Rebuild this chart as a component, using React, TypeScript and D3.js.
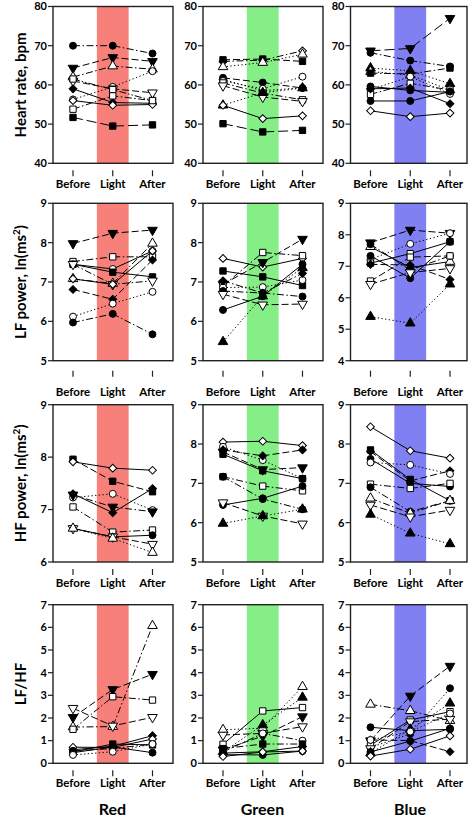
import React from 'react';
import * as d3 from 'd3';

// [marker, line style, Before, Light, After]
type Series = [string, string, number, number, number];

const conditions = ['Before', 'Light', 'After'];
const lightNames = ['Red', 'Green', 'Blue'];
const bandColors = ['#F7807A', '#86EE86', '#8080F2'];
const rowTitles = ['Heart rate, bpm', 'LF power, ln(ms', 'HF power, ln(ms', 'LF/HF'];
const rowTitleSup = [false, true, true, false];

const hrDomains = [[40, 80], [40, 80], [40, 80]];
const lfDomains = [[5, 9], [5, 9], [4, 9]];
const hfDomains = [[6, 9], [5, 9], [5, 9]];
const ratioDomains = [[0, 7], [0, 7], [0, 7]];
const hrTicks = [40, 50, 60, 70, 80];
const ratioTicks = [0, 1, 2, 3, 4, 5, 6, 7];

const hrRed: Series[] = [
  ['fc', 'dashdot', 70, 70, 68],
  ['fdt', 'dash', 64.3, 67, 66],
  ['out', 'dashdot', 62, 64.8, 64],
  ['oc', 'dot', 56.3, 59.5, 63.5],
  ['odt', 'dash', 61, 59, 58],
  ['os', 'dashdotdot', 61.5, 58.8, 56],
  ['fd', 'solid', 59, 55.5, 55.3],
  ['od', 'solid', 56, 54.8, 55],
  ['os', 'dashdot', 53.8, 57.2, 56],
  ['fs', 'longdash', 51.7, 49.5, 49.8],
];
const hrGreen: Series[] = [
  ['od', 'dashdot', 66, 66.3, 68.7],
  ['fs', 'dash', 66.4, 66.6, 66],
  ['out', 'dot', 64.6, 65.7, 67.8],
  ['fc', 'dash', 61.8, 60.6, 59.2],
  ['fd', 'dot', 61.4, 58.5, 59.3],
  ['oc', 'dot', 61, 59, 62.1],
  ['os', 'dashdot', 60.5, 57.9, 56.2],
  ['odt', 'dash', 59.8, 56.9, 55.8],
  ['fut', 'dot', 54.8, 58, 59.2],
  ['od', 'solid', 54.8, 51.4, 52.1],
  ['fs', 'longdash', 50.1, 48, 48.4],
];
const hrBlue: Series[] = [
  ['fdt', 'longdash', 68.7, 69.3, 77],
  ['fc', 'dashdot', 68.2, 66.2, 64.7],
  ['fut', 'dot', 64.3, 63.6, 60.3],
  ['out', 'dot', 63.4, 62.5, 58.7],
  ['fs', 'dashdot', 63, 62.8, 64.3],
  ['fc', 'solid', 59.6, 58.6, 58.1],
  ['oc', 'dot', 58.8, 62.1, 57.7],
  ['os', 'dashdot', 57.6, 60.4, 58.7],
  ['fd', 'solid', 59, 59.2, 55.2],
  ['fc', 'solid', 55.9, 55.9, 58.3],
  ['od', 'solid', 53.4, 51.9, 52.8],
];

const lfRed: Series[] = [
  ['fdt', 'dash', 7.98, 8.24, 8.32],
  ['os', 'dashdot', 7.52, 7.64, 7.64],
  ['oc', 'solid', 7.45, 7.33, 7.79],
  ['fs', 'solid', 7.45, 7.25, 7.13],
  ['odt', 'dashdot', 7.45, 6.94, 7.03],
  ['out', 'dashdot', 7.08, 6.96, 7.98],
  ['od', 'solid', 7.08, 6.94, 7.79],
  ['fd', 'dash', 6.81, 6.56, 7.56],
  ['oc', 'dot', 6.12, 6.45, 6.75],
  ['fc', 'dashdot', 5.97, 6.19, 5.67],
];
const lfGreen: Series[] = [
  ['od', 'solid', 7.6, 7.38, 7.6],
  ['fs', 'solid', 7.28, 7.13, 6.91],
  ['fdt', 'dash', 6.94, 7.5, 8.09],
  ['os', 'dashdot', 6.9, 7.75, 7.67],
  ['oc', 'dot', 6.86, 6.87, 7.05],
  ['fd', 'dashdot', 7.03, 6.72, 7.22],
  ['fc', 'dashdot', 6.77, 6.72, 6.63],
  ['odt', 'dash', 6.69, 6.42, 6.44],
  ['fc', 'solid', 6.29, 6.64, 7.45],
  ['fut', 'dot', 5.48, 6.64, 7.36],
];
const lfBlue: Series[] = [
  ['fdt', 'dash', 7.75, 8.15, 8.05],
  ['oc', 'dot', 7.22, 7.71, 8.05],
  ['out', 'solid', 7.62, 6.96, 7.15],
  ['os', 'solid', 7.1, 7.4, 7.78],
  ['fc', 'solid', 7.33, 6.62, 7.78],
  ['fd', 'dash', 7.06, 7.04, 6.58],
  ['fc', 'dashdot', 7.7, 6.88, 7.33],
  ['os', 'dash', 6.53, 7.29, 7.33],
  ['odt', 'dash', 6.43, 6.8, 6.93],
  ['fut', 'dot', 5.4, 5.19, 6.43],
];

const hfRed: Series[] = [
  ['fs', 'dash', 7.96, 7.54, 7.34],
  ['od', 'solid', 7.91, 7.79, 7.75],
  ['oc', 'dot', 7.23, 7.3, 6.99],
  ['fd', 'solid', 7.3, 6.94, 7.4],
  ['fdt', 'dashdot', 7.28, 7.05, 6.96],
  ['os', 'dashdot', 7.05, 6.57, 6.61],
  ['fc', 'solid', 6.64, 6.48, 6.51],
  ['odt', 'dash', 6.64, 6.48, 6.34],
  ['out', 'dot', 6.64, 6.45, 6.18],
];
const hfGreen: Series[] = [
  ['od', 'solid', 8.05, 8.07, 7.96],
  ['oc', 'dot', 7.93, 7.59, 7.12],
  ['fd', 'dash', 7.85, 7.7, 7.85],
  ['fdt', 'dash', 7.8, 7.35, 7.4],
  ['fs', 'solid', 7.74, 7.32, 7.12],
  ['os', 'dashdot', 7.17, 6.93, 6.81],
  ['fc', 'dashdot', 7.17, 6.6, 6.34],
  ['fc', 'solid', 6.45, 6.62, 6.93],
  ['odt', 'dash', 6.51, 6.17, 5.97],
  ['fut', 'dot', 5.98, 6.17, 6.34],
];
const hfBlue: Series[] = [
  ['od', 'solid', 8.44, 7.83, 7.64],
  ['fs', 'solid', 7.85, 7.1, 6.56],
  ['fd', 'dash', 7.81, 7.06, 7.32],
  ['fc', 'solid', 7.62, 7.0, 6.92],
  ['oc', 'dot', 7.53, 7.47, 7.24],
  ['os', 'dashdot', 6.98, 6.87, 7.0],
  ['fc', 'dashdot', 6.9, 6.28, 6.56],
  ['out', 'dashdot', 6.62, 6.24, 6.56],
  ['odt', 'dash', 6.45, 6.15, 6.32],
  ['fut', 'dot', 6.21, 5.73, 5.46],
];

const ratioRed: Series[] = [
  ['out', 'dashdot', 1.6, 1.62, 6.07],
  ['fdt', 'dash', 2.03, 3.26, 3.93],
  ['os', 'dashdot', 1.5, 2.94, 2.79],
  ['odt', 'dash', 2.43, 1.65, 2.03],
  ['fs', 'solid', 0.5, 0.85, 0.81],
  ['fd', 'solid', 0.6, 0.75, 1.22],
  ['od', 'solid', 0.71, 0.7, 1.07],
  ['fc', 'solid', 0.47, 0.72, 0.47],
  ['fc', 'dashdot', 0.55, 0.65, 0.85],
  ['oc', 'dot', 0.37, 0.51, 0.85],
];
const ratioGreen: Series[] = [
  ['out', 'dot', 1.48, 1.55, 3.38],
  ['odt', 'dash', 1.25, 1.32, 1.62],
  ['os', 'solid', 0.84, 2.31, 2.46],
  ['fut', 'dot', 0.5, 1.69, 2.91],
  ['fdt', 'dash', 0.6, 1.2, 2.06],
  ['oc', 'dashdot', 0.5, 1.32, 1.0],
  ['fs', 'dashdot', 0.65, 0.85, 0.85],
  ['fd', 'solid', 0.45, 0.51, 0.74],
  ['fc', 'solid', 0.38, 0.37, 0.54],
  ['od', 'solid', 0.3, 0.5, 0.54],
];
const ratioBlue: Series[] = [
  ['fdt', 'dash', 1.0, 2.97, 4.29],
  ['out', 'dashdot', 2.6, 2.32, 1.88],
  ['fc', 'solid', 1.59, 1.44, 1.5],
  ['fc', 'dot', 0.7, 1.3, 3.31],
  ['os', 'solid', 0.8, 1.91, 2.28],
  ['odt', 'dash', 0.65, 1.84, 1.95],
  ['fut', 'dot', 0.45, 1.5, 2.65],
  ['fd', 'dash', 1.03, 1.0, 0.51],
  ['fc', 'solid', 0.5, 0.98, 1.54],
  ['oc', 'dot', 1.03, 1.4, 2.2],
  ['od', 'solid', 0.32, 0.62, 1.21],
];

const grid: Series[][][] = [
  [hrRed, hrGreen, hrBlue],
  [lfRed, lfGreen, lfBlue],
  [hfRed, hfGreen, hfBlue],
  [ratioRed, ratioGreen, ratioBlue],
];
const domains = [hrDomains, lfDomains, hfDomains, ratioDomains];

// layout
const W = 472;
const H = 821;
const colLeft = [53, 203, 350.5];
const colWidth = [120, 120, 116.5];
const rowTop = [6.5, 203.3, 404.7, 604.7];
const rowBottom = [163.3, 360.7, 562, 763.3];
const rowTickGap = [7, 10, 7, 7];
const rowLabelGap = [21, 31, 21, 20];
const FONT = 'Lato, "Open Sans", sans-serif';

const dashes: Record<string, string | undefined> = {
  solid: undefined,
  dash: '7,3',
  longdash: '10,4',
  dot: '1.3,2.4',
  dashdot: '7,2.5,1.5,2.5',
  dashdotdot: '7,2,1.5,2,1.5,2',
};

function markerPath(m: string): { d: string; rot: number } {
  const kind = m.replace(/^[fo]/, '');
  if (kind === 'c') return { d: d3.symbol(d3.symbolCircle, 38)() as string, rot: 0 };
  if (kind === 's') return { d: d3.symbol(d3.symbolSquare, 40)() as string, rot: 0 };
  if (kind === 'd') return { d: d3.symbol(d3.symbolSquare, 30)() as string, rot: 45 };
  if (kind === 'ut') return { d: d3.symbol(d3.symbolTriangle, 40)() as string, rot: 0 };
  return { d: d3.symbol(d3.symbolTriangle, 40)() as string, rot: 180 };
}

function Panel({ r, c }: { r: number; c: number }) {
  const left = colLeft[c];
  const width = colWidth[c];
  const top = rowTop[r];
  const bottom = rowBottom[r];
  const dom = domains[r][c];
  const x = d3.scalePoint<string>().domain(conditions).range([left + 20, left + 99.5]);
  const step = x.step();
  const y = d3.scaleLinear().domain(dom).range([bottom, top]);
  const ticks = r === 0 ? hrTicks : r === 3 ? ratioTicks : d3.range(dom[0], dom[1] + 1);
  const series = grid[r][c];
  const line = d3
    .line<number>()
    .x((_, i) => x(conditions[i]) as number)
    .y((v) => y(v));
  const lx = x('Light') as number;
  return (
    <g>
      <rect x={lx - step * 0.4} y={top} width={step * 0.8} height={bottom - top} fill={bandColors[c]} />
      {series.map((s, i) => (
        <path
          key={'l' + i}
          d={line([s[2], s[3], s[4]]) as string}
          fill="none"
          stroke="#000"
          strokeWidth={1}
          strokeDasharray={dashes[s[1]]}
        />
      ))}
      {series.map((s, i) => {
        const mk = markerPath(s[0]);
        const filled = s[0].startsWith('f');
        return (
          <g key={'m' + i}>
            {[s[2], s[3], s[4]].map((v, j) => (
              <path
                key={j}
                d={mk.d}
                transform={`translate(${x(conditions[j])},${y(v)}) rotate(${mk.rot})`}
                fill={filled ? '#000' : '#fff'}
                stroke="#000"
                strokeWidth={1}
              />
            ))}
          </g>
        );
      })}
      <rect x={left} y={top} width={width} height={bottom - top} fill="none" stroke="#222" strokeWidth={1.4} />
      {ticks.map((t) => (
        <g key={'yt' + t}>
          <line x1={left - 5} x2={left} y1={y(t)} y2={y(t)} stroke="#222" strokeWidth={1.2} />
          <text x={left - 6} y={y(t)} dy="0.35em" textAnchor="end" fontSize={11} fontWeight={700} fontFamily={FONT}>
            {t}
          </text>
        </g>
      ))}
      {conditions.map((cnd) => (
        <g key={'xt' + cnd}>
          <line
            x1={x(cnd)}
            x2={x(cnd)}
            y1={bottom + rowTickGap[r]}
            y2={bottom + rowTickGap[r] + 6}
            stroke="#222"
            strokeWidth={1.2}
          />
          <text
            x={x(cnd)}
            y={bottom + rowLabelGap[r]}
            dy="0.35em"
            textAnchor="middle"
            fontSize={11.5}
            fontWeight={700}
            fontFamily={FONT}
          >
            {cnd}
          </text>
        </g>
      ))}
    </g>
  );
}

export default function App() {
  return (
    <svg width={W} height={H} style={{ position: 'absolute', left: 0, top: 0, background: '#fff' }}>
      <rect width={W} height={H} fill="#fff" />
      {rowTitles.map((t, r) => {
        const cy = (rowTop[r] + rowBottom[r]) / 2;
        return (
          <text
            key={'rt' + r}
            transform={`translate(21,${cy}) rotate(-90)`}
            textAnchor="middle"
            dy="0.35em"
            fontSize={15}
            fontWeight={700}
            fontFamily={FONT}
          >
            {t}
            {rowTitleSup[r] ? (
              <>
                <tspan fontSize={10} dy="-6">2</tspan>
                <tspan dy="6">)</tspan>
              </>
            ) : null}
          </text>
        );
      })}
      {[0, 1, 2, 3].map((r) => [0, 1, 2].map((c) => <Panel key={`${r}-${c}`} r={r} c={c} />))}
      {lightNames.map((n, c) => (
        <text
          key={n}
          x={colLeft[c] + 59.5}
          y={809}
          dy="0.35em"
          textAnchor="middle"
          fontSize={16}
          fontWeight={700}
          fontFamily={FONT}
        >
          {n}
        </text>
      ))}
    </svg>
  );
}
